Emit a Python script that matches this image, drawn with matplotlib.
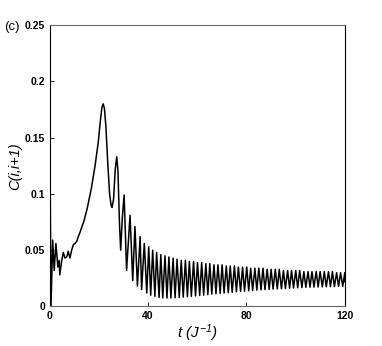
import numpy as np
import matplotlib
matplotlib.use("Agg")
import matplotlib.pyplot as plt

plt.rcParams['font.family'] = ['Liberation Sans', 'DejaVu Sans']
plt.rcParams['mathtext.fontset'] = 'custom'
plt.rcParams['mathtext.rm'] = 'Liberation Sans:italic'
plt.rcParams['mathtext.it'] = 'Liberation Sans:italic'

# early part: t = 0 .. 30
t_early = [0.0, 0.3, 0.6, 1.3, 1.9, 2.6, 3.4, 3.9, 4.2, 4.9, 5.6, 6.3, 7.0, 7.6,
           8.3, 9.0, 9.7, 10.4, 11.1, 11.7, 12.4, 14.0, 15.3, 17.0, 18.5, 19.8,
           20.7, 21.3, 21.8, 22.3, 22.9, 23.6, 24.4, 25.0, 25.4, 26.0, 26.7,
           27.3, 27.8, 28.4, 28.9, 29.6]
c_early = [0.200, 0.100, 0.000, 0.059, 0.032, 0.056, 0.035, 0.041, 0.028, 0.040,
           0.048, 0.043, 0.044, 0.049, 0.043, 0.050, 0.055, 0.056, 0.058, 0.062,
           0.066, 0.076, 0.087, 0.105, 0.125, 0.146, 0.166, 0.177, 0.180, 0.176,
           0.160, 0.130, 0.100, 0.090, 0.088, 0.095, 0.122, 0.133, 0.120, 0.075,
           0.050, 0.080]

# oscillation maxima / minima after t = 30
t_peak = [30.3, 32.7, 34.7, 36.8, 38.5, 40.3, 41.9, 43.5,
          45.2, 46.9, 48.5, 50.2, 51.8, 53.5, 55.2, 56.8, 58.5, 60.1, 61.8, 63.5,
          65.1, 66.8, 68.4, 70.1, 71.8, 73.4, 75.1, 76.7, 78.4, 80.1, 81.7, 83.4,
          85.0, 86.7, 88.4, 90.0, 91.7, 93.3, 95.0, 96.7, 98.3, 100.0, 101.6,
          103.3, 105.0, 106.6, 108.3, 109.9, 111.6, 113.3, 114.9, 116.6, 118.2,
          119.9]
c_peak = [0.099, 0.081, 0.071, 0.062, 0.056, 0.053, 0.050, 0.048,
          0.046, 0.045, 0.044, 0.043, 0.042, 0.041, 0.041, 0.040, 0.040, 0.039,
          0.039, 0.038, 0.038, 0.037, 0.037, 0.037, 0.036, 0.036, 0.036, 0.035,
          0.035, 0.035, 0.034, 0.034, 0.034, 0.034, 0.033, 0.033, 0.033, 0.033,
          0.032, 0.032, 0.032, 0.032, 0.032, 0.031, 0.031, 0.031, 0.031, 0.031,
          0.031, 0.031, 0.031, 0.030, 0.030, 0.030]
t_trough = [31.3, 33.8, 35.7, 37.4, 39.5, 41.1, 42.8, 44.5,
            46.0, 47.7, 49.3, 51.0, 52.7, 54.3, 56.0, 57.6, 59.3, 61.0, 62.6,
            64.3, 65.9, 67.6, 69.3, 70.9, 72.6, 74.2, 75.9, 77.6, 79.2, 80.9,
            82.5, 84.2, 85.9, 87.5, 89.2, 90.8, 92.5, 94.2, 95.8, 97.5, 99.1,
            100.8, 102.5, 104.1, 105.8, 107.4, 109.1, 110.8, 112.4, 114.1, 115.7,
            117.4, 119.1]
c_trough = [0.032, 0.023, 0.018, 0.015, 0.012, 0.010, 0.009, 0.008,
            0.0076, 0.0075, 0.0076, 0.0078, 0.0080, 0.0083, 0.0086, 0.0090,
            0.0094, 0.0098, 0.0100, 0.0105, 0.0110, 0.0113, 0.0117, 0.0120,
            0.0123, 0.0126, 0.0130, 0.0133, 0.0136, 0.0139, 0.0142, 0.0145,
            0.0148, 0.0150, 0.0152, 0.0154, 0.0156, 0.0158, 0.0160, 0.0162,
            0.0164, 0.0166, 0.0168, 0.0170, 0.0171, 0.0172, 0.0173, 0.0174,
            0.0175, 0.0176, 0.0177, 0.0178, 0.0179]
t_end = [120.0]
c_end = [0.022]

x_ticks = [0, 40, 80, 120]
y_ticks = [0, 0.05, 0.1, 0.15, 0.2, 0.25]
y_ticklabels = ['0', '0.05', '0.1', '0.15', '0.2', '0.25']

t_all = np.array(t_early + t_peak + t_trough + t_end)
c_all = np.array(c_early + c_peak + c_trough + c_end)
order = np.argsort(t_all)
t_all = t_all[order]
c_all = c_all[order]

fig = plt.figure(figsize=(3.82, 3.46), dpi=100)
ax = fig.add_axes([0.1296, 0.1142, 0.7735, 0.8135])
ax.plot(t_all, c_all, color='black', lw=1.1)

ax.set_xlim(0, 120)
ax.set_ylim(0, 0.25)
ax.set_xticks(x_ticks)
ax.set_yticks(y_ticks)
ax.set_yticklabels(y_ticklabels)
ax.tick_params(direction='in', length=3, width=0.6, labelsize=7.5, pad=3)
for lab in ax.get_xticklabels() + ax.get_yticklabels():
    lab.set_fontweight('bold')
for sp in ax.spines.values():
    sp.set_linewidth(0.8)
ax.spines['top'].set_color('0.4')
ax.spines['bottom'].set_color('0.4')

ax.set_ylabel('C(i,i+1)', fontsize=10.5, style='italic', labelpad=2)
ax.set_xlabel(r'$t\ (J^{-1})$', fontsize=11, labelpad=1)
fig.text(0.012, 0.912, '(c)', fontsize=9.5)

fig.savefig('out.png', dpi=100)
